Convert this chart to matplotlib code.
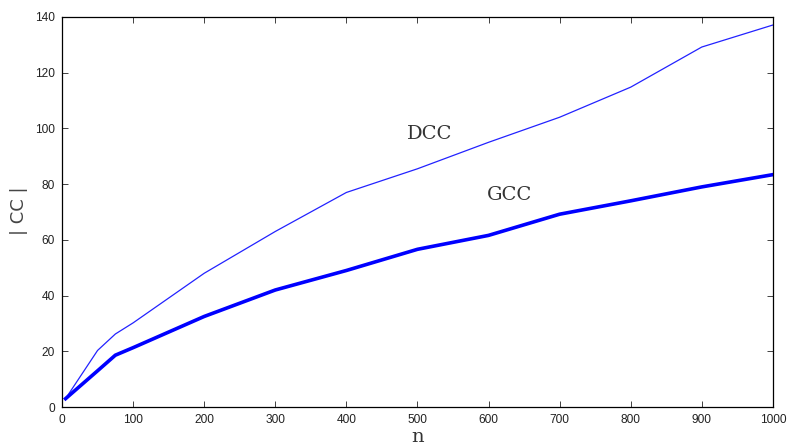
import matplotlib
matplotlib.use("Agg")
import matplotlib.pyplot as plt

n = [5, 50, 75, 100, 200, 300, 400, 500, 600, 700, 800, 900, 1000]
dcc = [3, 20.3, 26.2, 30.2, 48, 63, 77, 85.5, 95, 104, 114.8, 129.2, 137.1]
gcc = [3, 13, 18.6, 21.3, 32.5, 42, 49, 56.6, 61.6, 69.2, 74, 79, 83.4]

xticks = list(range(0, 1001, 100))
yticks = list(range(0, 141, 20))

fig = plt.figure(figsize=(7.87, 4.46), dpi=100)
ax = fig.add_axes([0.0788, 0.0874, 0.9032, 0.8746])

ax.plot(n, dcc, color="#2222ff", lw=0.9)
ax.plot(n, gcc, color="#0000ff", lw=2.6)

ax.set_xlim(0, 1000)
ax.set_ylim(0, 140)
ax.set_xticks(xticks)
ax.set_yticks(yticks)
ax.tick_params(direction="in", top=True, right=True, length=4, width=0.6,
               labelsize=8.6, colors="#222222", pad=5)
for lab in ax.get_xticklabels() + ax.get_yticklabels():
    lab.set_family("Liberation Sans")
for s in ax.spines.values():
    s.set_linewidth(0.9)

ax.text(517, 98, "DCC", fontsize=14, family="DejaVu Serif", color="#333333",
        ha="center", va="center")
ax.text(630, 76, "GCC", fontsize=14, family="DejaVu Serif", color="#333333",
        ha="center", va="center")

ax.set_xlabel("n", fontsize=14, family="DejaVu Serif", color="#333333", labelpad=1.5)
fig.text(19 / 787, 1 - 211 / 446, "| CC |", fontsize=13, color="#444444",
         rotation=90, ha="center", va="center")

fig.savefig("out.png", dpi=100)
